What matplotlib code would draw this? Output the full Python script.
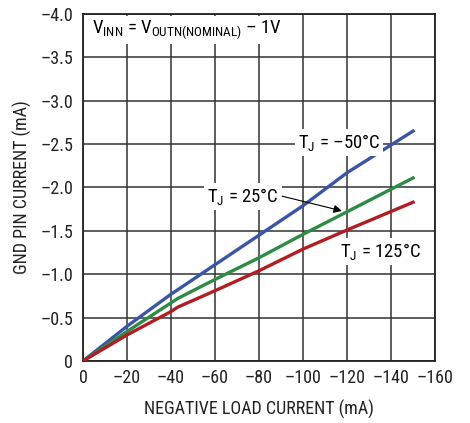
import matplotlib
matplotlib.use("Agg")
import matplotlib.pyplot as plt

plt.rcParams["font.family"] = ["Roboto Condensed", "DejaVu Sans"]
plt.rcParams["mathtext.fontset"] = "custom"
plt.rcParams["mathtext.rm"] = "Roboto Condensed"
plt.rcParams["mathtext.it"] = "Roboto Condensed"
plt.rcParams["mathtext.bf"] = "Roboto Condensed"

# load current (mA)
load = [0, -20, -40, -43, -60, -80, -100, -120, -150]
# GND pin current (mA)
gnd_m50 = [0, -0.40, -0.77, -0.82, -1.11, -1.45, -1.79, -2.17, -2.65]
gnd_25 = [0, -0.34, -0.67, -0.72, -0.94, -1.19, -1.46, -1.72, -2.11]
gnd_125 = [0, -0.30, -0.57, -0.62, -0.81, -1.04, -1.29, -1.51, -1.83]

xticks = [0, -20, -40, -60, -80, -100, -120, -140, -160]
yticks = [0, -0.5, -1.0, -1.5, -2.0, -2.5, -3.0, -3.5, -4.0]

DASH = "\u2013"

fig = plt.figure(figsize=(4.7, 4.23), dpi=100)
ax = fig.add_axes([0.1766, 0.1466, 0.749, 0.8203])

ax.plot(load, gnd_m50, color="#3a55a4", lw=2.4, zorder=3)
ax.plot(load, gnd_25, color="#2e8b45", lw=2.4, zorder=3)
ax.plot(load, gnd_125, color="#b01e24", lw=2.4, zorder=3)

ax.set_xlim(0, -160)
ax.set_ylim(0, -4.0)
ax.set_xticks(xticks)
ax.set_yticks(yticks)
ax.set_xticklabels(["0" if v == 0 else f"{DASH}{abs(v)}" for v in xticks])
ax.set_yticklabels(["0" if v == 0 else f"{DASH}{abs(v):.1f}" for v in yticks])
ax.tick_params(labelsize=13, length=0, colors="#222222")
ax.tick_params(axis="x", pad=6)
ax.tick_params(axis="y", pad=7)
ax.grid(True, color="#333333", lw=1.1)
for s in ax.spines.values():
    s.set_linewidth(1.3)
    s.set_color("#222222")

ax.set_xlabel("NEGATIVE LOAD CURRENT (mA)", fontsize=13, color="#222222", labelpad=9)
ax.set_ylabel("GND PIN CURRENT (mA)", fontsize=13, color="#222222", labelpad=6)

box = dict(facecolor="white", edgecolor="none", pad=2)
fs = 13.5
ax.text(-4.1, -3.78, "V$_{\\mathrm{INN}}$ = V$_{\\mathrm{OUTN(NOMINAL)}}$ " + DASH + " 1V",
        fontsize=fs, va="baseline", ha="left", bbox=box, zorder=4)
ax.text(-97.7, -2.455, "T$_{\\mathrm{J}}$ = " + DASH + "50\u00b0C", fontsize=fs,
        va="baseline", ha="left", bbox=box, zorder=4)
ax.text(-56.4, -1.83, "T$_{\\mathrm{J}}$ = 25\u00b0C", fontsize=fs,
        va="baseline", ha="left", bbox=box, zorder=4)
ax.text(-116.8, -1.20, "T$_{\\mathrm{J}}$ = 125\u00b0C", fontsize=fs,
        va="baseline", ha="left", bbox=box, zorder=4)
ax.annotate("", xy=(-117.7, -1.73), xytext=(-90.5, -1.90),
            arrowprops=dict(arrowstyle="-|>", color="black", lw=0.8,
                            mutation_scale=12, shrinkA=0, shrinkB=0), zorder=5)

fig.savefig("out.png", dpi=100)
